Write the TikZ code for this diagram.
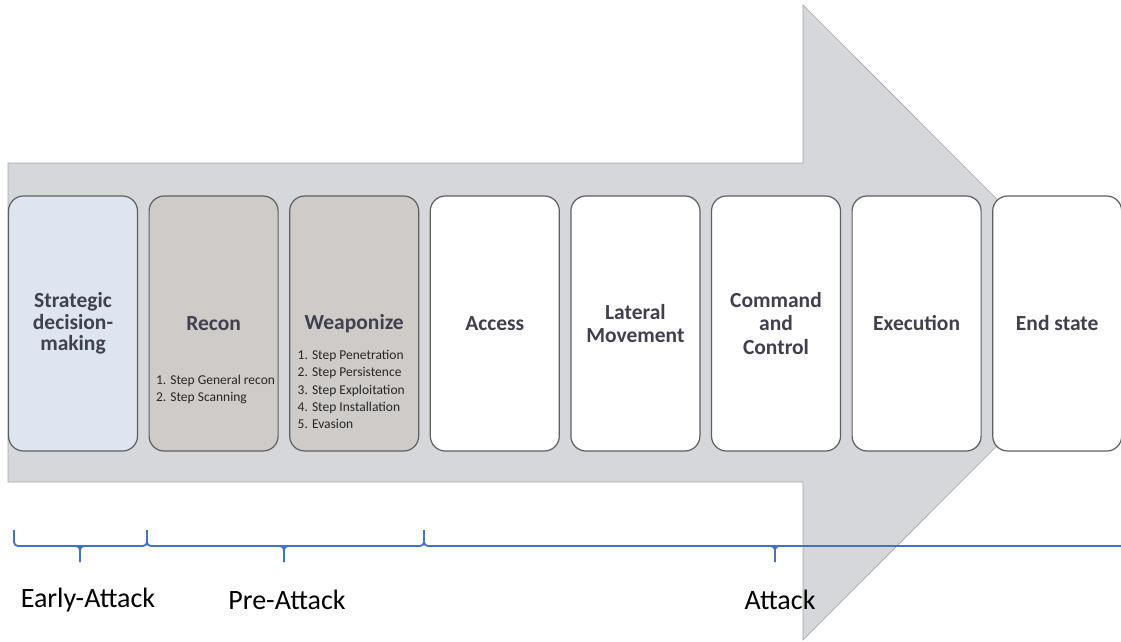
\documentclass[tikz,border=0pt]{standalone}
\usepackage{fontspec}
\setmainfont{Carlito}
\usepackage{tikz}
\usetikzlibrary{positioning}
\definecolor{arrowgray}{RGB}{213,215,219}
\definecolor{edgegray}{RGB}{165,165,165}
\definecolor{boxline}{RGB}{95,95,95}
\definecolor{earlyblue}{RGB}{221,229,241}
\definecolor{pregray}{RGB}{206,203,201}
\definecolor{phaseblue}{RGB}{68,114,196}
\definecolor{titletext}{RGB}{64,64,78}

\begin{document}
\begin{tikzpicture}[x=1pt, y=-1pt,
                    node distance = 11.6pt,
                    every node/.style = {text=titletext, align=center, inner sep=0pt, outer sep=0pt},
                    stage/.style = {draw=boxline, line width=1.2pt, rounded corners=15pt, fill=white,
                                    minimum width=129pt, minimum height=255pt,
                                    font=\bfseries\fontsize{21.5}{23.5}\selectfont},
                    steps/.style = {align=left, text=black!85, font=\fontsize{13.5}{17.3}\selectfont},
                    phase/.style = {text=black, font=\fontsize{28}{30}\selectfont},
                    span/.style = {draw=phaseblue, line width=1.8pt, rounded corners=4pt}]
                \useasboundingbox (0,0) rectangle (1121,641);
                % big arrow behind the stages
                \path[fill=arrowgray, draw=edgegray, line width=0.6pt]
                    (8,163) -- (803,163) -- (803,5) -- (1120,322.5) -- (803,640) -- (803,482) -- (8,482) -- cycle;
                \node (strategic) [stage, fill=earlyblue, font=\bfseries\fontsize{21.5}{21.5}\selectfont] at (73,323.5) {Strategic\\decision-\\making};
                \node (recon)     [stage, fill=pregray, right = of strategic] {Recon};
                \node (weaponize) [stage, fill=pregray, right = of recon]     {Weaponize};
                \node (access)    [stage, right = of weaponize] {Access};
                \node (lateral)   [stage, right = of access]    {Lateral\\Movement};
                \node (command)   [stage, right = of lateral]   {Command\\and\\Control};
                \node (execution) [stage, right = of command]   {Execution};
                \node (endstate)  [stage, right = of execution] {End state};
                \node (reconsteps) [steps, anchor=west] at ([xshift=7pt, yshift=-66pt]recon.west)
                    {1. Step General recon\\2. Step Scanning};
                \node (weaponsteps) [steps, anchor=west] at ([xshift=8pt, yshift=-66pt]weaponize.west)
                    {1. Step Penetration\\2. Step Persistence\\3. Step Exploitation\\4. Step Installation\\5. Evasion};
                % phase braces
                \foreach \a/\m/\b in {14/80/147, 147/284/424} {
                    \draw[span] (\a,530) -- (\a,546) -- (\b,546) -- (\b,530);
                    \draw[span] (\m-6,546) -- (\m,546) -- (\m,562);
                    \draw[span] (\m+6,546) -- (\m,546) -- (\m,562);
                }
                \draw[span] (424,530) -- (424,546) -- (1121,546);
                \draw[span] (769,546) -- (775,546) -- (775,562);
                \draw[span] (781,546) -- (775,546) -- (775,562);
                \node (early)  [phase] at (88,600)  {Early-Attack};
                \node (pre)    [phase] at (287,600) {Pre-Attack};
                \node (attack) [phase] at (780,600) {Attack};
            \end{tikzpicture}
\end{document}
